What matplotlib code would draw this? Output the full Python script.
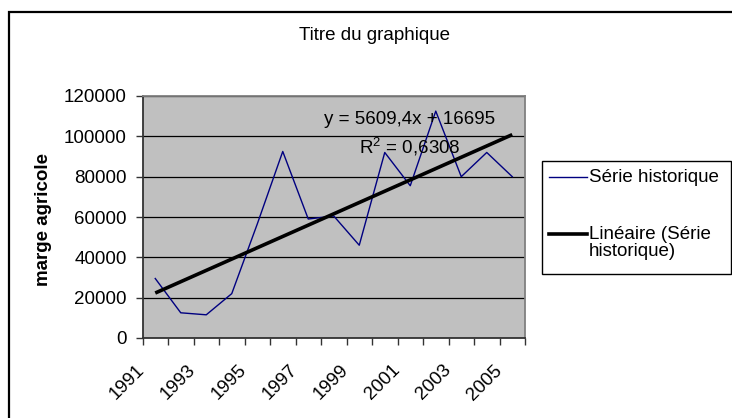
import matplotlib
matplotlib.use("Agg")
import matplotlib.pyplot as plt
from matplotlib.patches import Rectangle
from matplotlib.lines import Line2D
from matplotlib.transforms import ScaledTranslation
import numpy as np

plt.rcParams['font.family'] = ['Liberation Sans', 'DejaVu Sans']
plt.rcParams['mathtext.fontset'] = 'custom'
plt.rcParams['mathtext.rm'] = 'Liberation Sans'

# Data
years = [1991, 1992, 1993, 1994, 1995, 1996, 1997, 1998, 1999, 2000,
         2001, 2002, 2003, 2004, 2005]
marge = [29500, 12500, 11500, 22000, 56500, 92500, 59000, 60500, 46000, 92000,
         75500, 112500, 80000, 92000, 80000]
trend_slope = 5609.4
trend_intercept = 16695
r_squared = "0,6308"
yticks = [0, 20000, 40000, 60000, 80000, 100000, 120000]
xtick_years = [1991, 1993, 1995, 1997, 1999, 2001, 2003, 2005]

W, H = 732, 418
fig = plt.figure(figsize=(W / 100, H / 100), dpi=100)
fs = 13.5

def fx(px):
    return px / W

def fy(py):
    return 1 - py / H

# Chart area border
fig.add_artist(Rectangle((fx(9), -0.2), 1.2, fy(12) + 0.2, transform=fig.transFigure,
                         fill=False, edgecolor='black', linewidth=1.6))

ax = fig.add_axes([fx(142.5), fy(338), fx(525) - fx(142.5), fy(96) - fy(338)])
ax.set_facecolor('#C0C0C0')

x = np.arange(1, len(years) + 1)
ax.plot(x, marge, color='#000080', linewidth=1.0, zorder=3)

# Linear trend from the fitted equation
xt = np.array([x[0], x[-1]])
ax.plot(xt, trend_slope * xt + trend_intercept, color='black', linewidth=2.6, zorder=4,
        solid_capstyle='butt')

ax.set_xlim(0.5, len(years) + 0.5)
ax.set_ylim(0, 120000)

ax.set_yticks(yticks)
ax.set_yticklabels([str(v) for v in yticks], fontsize=fs)
ax.tick_params(axis='y', direction='out', length=5, width=1, color='#333333', pad=6.5)

# Category labels at centres, tick marks at boundaries
pos = [years.index(y) + 1 for y in xtick_years]
ax.set_xticks(pos)
ax.set_xticklabels([str(y) for y in xtick_years], fontsize=fs, rotation=45,
                   ha='right', va='top')
ax.tick_params(axis='x', which='major', length=0, pad=17)
ax.set_xticks(np.arange(0.5, len(years) + 1, 1), minor=True)
ax.tick_params(axis='x', which='minor', direction='out', length=5, width=1, color='#333333')
offset = ScaledTranslation(-7 / 100, 0, fig.dpi_scale_trans)
for lab in ax.get_xticklabels():
    lab.set_transform(lab.get_transform() + offset)

ax.set_axisbelow(True)
ax.grid(axis='y', color='black', linewidth=0.9)
for side in ['left', 'bottom']:
    ax.spines[side].set_color('#333333')
    ax.spines[side].set_linewidth(1.3)
for side in ['top', 'right']:
    ax.spines[side].set_color('#808080')
    ax.spines[side].set_linewidth(1.3)

# Title and axis label
fig.text(fx(375), fy(35), "Titre du graphique", ha='center', va='center', fontsize=fs)
fig.text(fx(43), fy(220), "marge agricole", ha='center', va='center', rotation=90,
         fontsize=fs, fontweight='bold')

# Trend equation
fig.text(fx(410), fy(119), "y = 5609,4x + 16695", ha='center', va='center', fontsize=fs)
fig.text(fx(410), fy(147), r"R$^{\mathregular{2}}$ = " + r_squared, ha='center', va='center',
         fontsize=fs)

# Legend
fig.add_artist(Rectangle((fx(542), fy(274)), fx(731) - fx(542), fy(161) - fy(274),
                         transform=fig.transFigure, fill=False, edgecolor='black',
                         linewidth=1.0))
fig.add_artist(Line2D([fx(549), fx(587)], [fy(177), fy(177)], transform=fig.transFigure,
                      color='#000080', linewidth=1.0))
fig.add_artist(Line2D([fx(549), fx(587)], [fy(234), fy(234)], transform=fig.transFigure,
                      color='black', linewidth=2.6))
fig.text(fx(589), fy(181.5), "Série historique", ha='left', va='baseline', fontsize=fs)
fig.text(fx(589), fy(239), "Linéaire (Série", ha='left', va='baseline', fontsize=fs)
fig.text(fx(589), fy(256), "historique)", ha='left', va='baseline', fontsize=fs)

fig.savefig("out.png", dpi=100)
